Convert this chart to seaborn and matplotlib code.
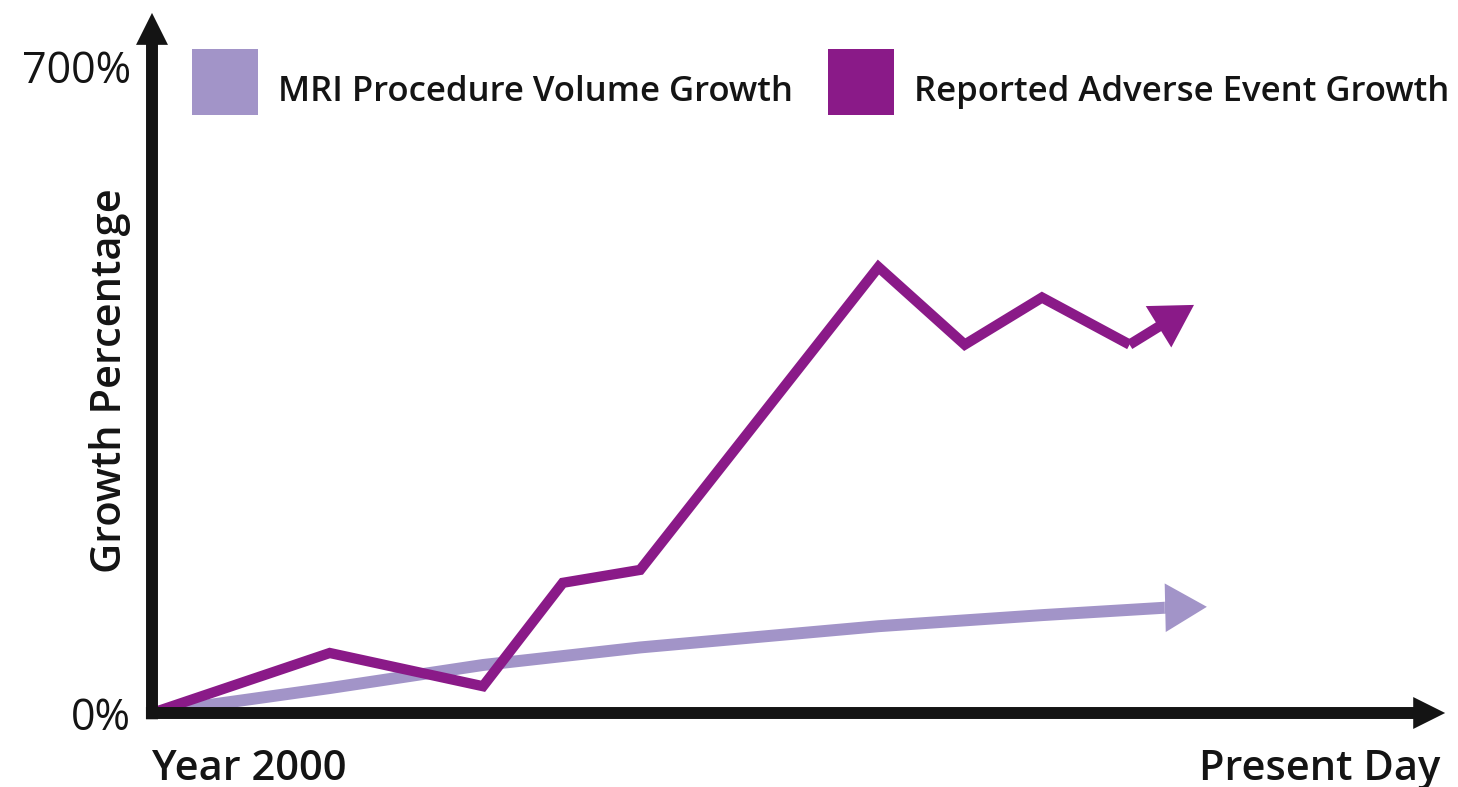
import matplotlib
matplotlib.use("Agg")
import matplotlib.pyplot as plt
from matplotlib.lines import Line2D
import seaborn as sns
import pandas as pd

# data (x = time position from Year 2000 to Present Day, y = growth %)
adverse_x = [0, 13.8, 25.7, 31.9, 37.9, 56.4, 63.1, 69.1, 75.9, 80.9]
adverse_y = [0, 65, 29, 141, 155, 483, 399, 450, 399, 442]
mri_x = [0, 13.8, 25.7, 37.9, 56.4, 69.1, 78.6, 81.9]
mri_y = [0, 27, 52, 71, 94, 106, 114, 115]
series_names = ["MRI Procedure Volume Growth", "Reported Adverse Event Growth"]
y_ticks = [0, 700]
y_tick_labels = ["0%", "700%"]
x_tick_labels = ["Year 2000", "Present Day"]

PURPLE = "#8a1a88"
LAVENDER = "#a294c8"
BLACK = "#141414"

sns.set_theme(style="white")
plt.rcParams["font.family"] = ["Open Sans", "DejaVu Sans"]

fig = plt.figure(figsize=(14.58, 7.87), dpi=100)
ax = fig.add_axes([152 / 1458, 74 / 787, 1288 / 1458, 698 / 787])

df_mri = pd.DataFrame({"x": mri_x[:-1], "y": mri_y[:-1]})
df_adv = pd.DataFrame({"x": adverse_x[:-1], "y": adverse_y[:-1]})

sns.lineplot(data=df_mri, x="x", y="y", ax=ax, color=LAVENDER, lw=8.6,
             solid_capstyle="butt", clip_on=False)
sns.lineplot(data=df_adv, x="x", y="y", ax=ax, color=PURPLE, lw=7.4,
             solid_joinstyle="miter", solid_capstyle="butt", clip_on=False)

# arrow heads on the series (filled, no stroke)
ax.annotate("", xy=(mri_x[-1], mri_y[-1]), xytext=(mri_x[-2], mri_y[-2]),
            arrowprops=dict(arrowstyle="simple,head_length=3.0,head_width=3.5,tail_width=0.86",
                            color=LAVENDER, lw=0, mutation_scale=10,
                            shrinkA=0, shrinkB=0))
ax.annotate("", xy=(adverse_x[-1], adverse_y[-1]), xytext=(adverse_x[-2], adverse_y[-2]),
            arrowprops=dict(arrowstyle="simple,head_length=3.0,head_width=3.5,tail_width=0.74",
                            color=PURPLE, lw=0, mutation_scale=10,
                            shrinkA=0, shrinkB=0))

ax.set_xlim(0, 100)
ax.set_ylim(0, 756)

# axes drawn as arrows
for sp in ax.spines.values():
    sp.set_visible(False)
axis_style = "simple,head_length=2.3,head_width=2.3,tail_width=0.86"
ax.annotate("", xy=(0, 1.003), xytext=(0, -0.009), xycoords="axes fraction",
            arrowprops=dict(arrowstyle=axis_style, color=BLACK, lw=0,
                            mutation_scale=10, shrinkA=0, shrinkB=0))
ax.annotate("", xy=(1.004, 0), xytext=(-0.0047, 0), xycoords="axes fraction",
            arrowprops=dict(arrowstyle=axis_style, color=BLACK, lw=0,
                            mutation_scale=10, shrinkA=0, shrinkB=0))

ax.set_yticks(y_ticks, y_tick_labels)
ax.set_xticks([0, 100], x_tick_labels)
ax.tick_params(axis="y", length=0, pad=15, labelsize=31, labelcolor=BLACK)
ax.tick_params(axis="x", length=0, pad=25, labelsize=30, labelcolor=BLACK)
for lab in ax.get_xticklabels():
    lab.set_fontweight("semibold")
ax.get_xticklabels()[0].set_ha("left")
ax.get_xticklabels()[1].set_ha("right")

ax.set_xlabel("")
ax.set_ylabel("Growth Percentage", fontsize=30, fontweight="semibold", color=BLACK)
ax.yaxis.set_label_coords(-0.016, 0.476)

handles = [Line2D([], [], ls="none", marker="s", markersize=48, markeredgewidth=0,
                  color=LAVENDER),
           Line2D([], [], ls="none", marker="s", markersize=48, markeredgewidth=0,
                  color=PURPLE)]
ax.legend(handles, series_names, loc="upper left", bbox_to_anchor=(0.0303, 0.93),
          ncol=2, frameon=False, borderpad=0, borderaxespad=0,
          handlelength=1.93, handleheight=1.93,
          handletextpad=0.58, columnspacing=0.98,
          prop={"size": 25, "weight": "semibold"}, labelcolor=BLACK)

fig.savefig("out.png", dpi=100, facecolor="white")
